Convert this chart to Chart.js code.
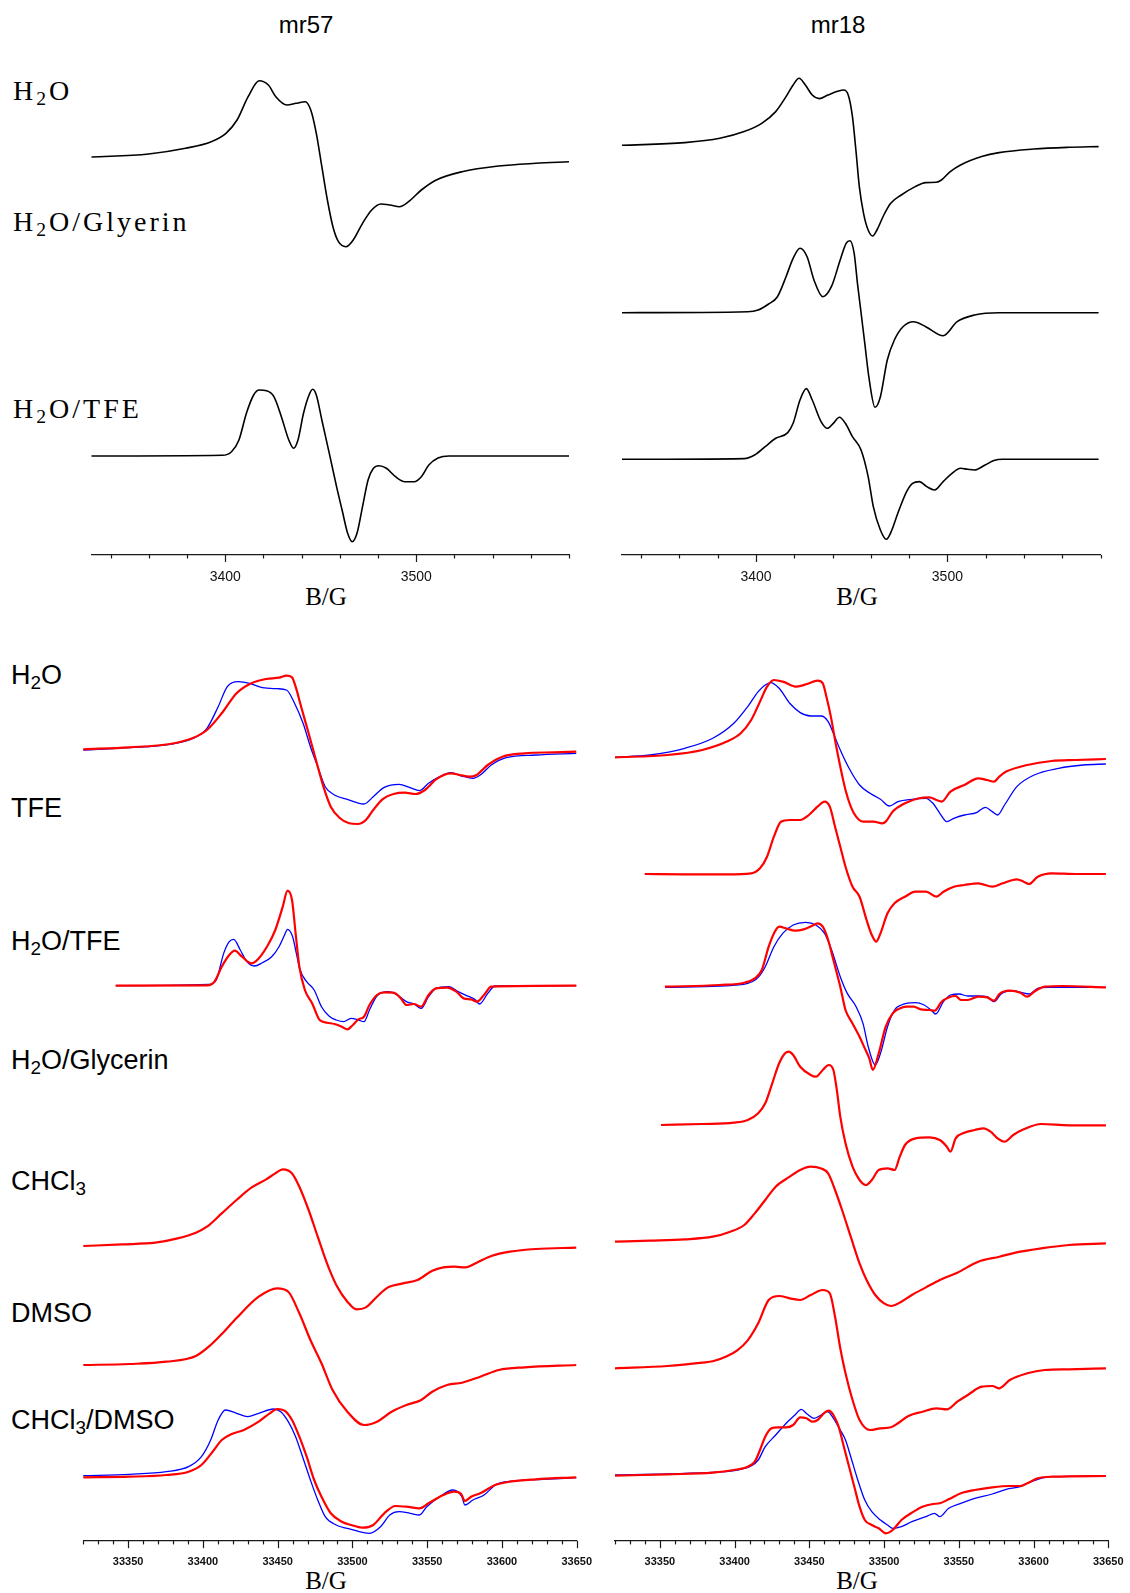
<!DOCTYPE html>
<html>
<head>
<meta charset="utf-8">
<script src="https://cdn.jsdelivr.net/npm/chart.js@4.4.0/dist/chart.umd.min.js"></script>
<style>
  html, body { margin: 0; padding: 0; background: #fff; }
  body { width: 1130px; height: 1593px; position: relative; overflow: hidden; }
  canvas { position: absolute; }
  .t { position: absolute; white-space: nowrap; color: #000; line-height: 1; }
  .serif { font-family: "Liberation Serif", "Times New Roman", serif; }
  .sans { font-family: "Liberation Sans", Arial, sans-serif; }
  .ctr { transform: translateX(-50%); }
  .lab { font-size: 28px; letter-spacing: 3px; }
  .slab { font-size: 27px; }
  sub { font-size: 0.7em; vertical-align: -0.28em; line-height: 0; }
</style>
</head>
<body>

<div class="t sans ctr" style="left:306px;top:13px;font-size:24px;">mr57</div>
<div class="t sans ctr" style="left:838px;top:13px;font-size:24px;">mr18</div>

<div class="t serif lab" style="left:13px;top:77px;">H<sub>2</sub>O</div>
<div class="t serif lab" style="left:13px;top:208px;">H<sub>2</sub>O/Glyerin</div>
<div class="t serif lab" style="left:13px;top:395px;">H<sub>2</sub>O/TFE</div>

<div class="t sans slab" style="left:11px;top:662px;">H<sub>2</sub>O</div>
<div class="t sans slab" style="left:11px;top:795px;">TFE</div>
<div class="t sans slab" style="left:11px;top:928px;">H<sub>2</sub>O/TFE</div>
<div class="t sans slab" style="left:11px;top:1047px;">H<sub>2</sub>O/Glycerin</div>
<div class="t sans slab" style="left:11px;top:1168px;">CHCl<sub>3</sub></div>
<div class="t sans slab" style="left:11px;top:1300px;">DMSO</div>
<div class="t sans slab" style="left:11px;top:1407px;">CHCl<sub>3</sub>/DMSO</div>

<div class="t serif ctr" style="left:326px;top:584px;font-size:25px;">B/G</div>
<div class="t serif ctr" style="left:857px;top:584px;font-size:25px;">B/G</div>
<div class="t serif ctr" style="left:326px;top:1568px;font-size:25px;">B/G</div>
<div class="t serif ctr" style="left:857px;top:1568px;font-size:25px;">B/G</div>

<canvas id="tl" width="595" height="620" style="left:0;top:0;"></canvas>
<canvas id="tr" width="550" height="620" style="left:580px;top:0;"></canvas>
<canvas id="bl" width="620" height="993" style="left:0;top:600px;"></canvas>
<canvas id="br" width="565" height="993" style="left:585px;top:600px;"></canvas>

<script>
// ---------- axis ticks ----------
const TOP_RANGE = [3330, 3580];
const TOP_TICK_LABELS = [3400, 3500];
const TOP_MINOR_STEP = 20;
const BOT_RANGE = [33320, 33650];
const BOT_TICK_LABELS = [33350, 33400, 33450, 33500, 33550, 33600, 33650];
const BOT_MINOR_STEP = 10;

// ---------- mr57, X-band (field in G, signal in arbitrary units) ----------
const mr57_H2O_B = [3330, 3359.9, 3379.2, 3392.7, 3400.4, 3406.2, 3412, 3417.8, 3422.6, 3426.5, 3432.3, 3437.1, 3441.9, 3444.8, 3447.7, 3450.6, 3453.5, 3456.4, 3459.3, 3463.2, 3467, 3471.9, 3476.7, 3481.5, 3486.3, 3491.2, 3496, 3502.7, 3510.5, 3524, 3543.3, 3562.6, 3580];
const mr57_H2O_S = [2, 5, 10.7, 17.3, 25.7, 39, 62.3, 78.3, 74, 62.3, 54, 55.7, 57.3, 49, 25.7, -7.7, -41, -67.7, -82.7, -87.7, -81, -64.3, -51, -45, -46, -47.7, -42.7, -31, -21, -12.7, -7, -4.3, -2.7];

const mr57_TFE_B = [3330, 3398.5, 3403.3, 3407.2, 3411.1, 3414.9, 3417.8, 3421.7, 3425.5, 3429.4, 3433.3, 3435.8, 3438.1, 3441, 3443.9, 3445.8, 3447.7, 3450.6, 3454.5, 3458.3, 3461.2, 3464.1, 3466.5, 3469, 3471.9, 3474.8, 3477.6, 3480.5, 3484.4, 3489.2, 3494, 3498.9, 3502.7, 3506.6, 3511.4, 3517.2, 3580];
const mr57_TFE_S = [0, 0.7, 4.3, 16, 42.7, 61, 66, 65.3, 59.3, 39.3, 16, 7.7, 16, 42.7, 61, 66.7, 61, 36, 2.7, -30.7, -54, -77.3, -85.7, -77.3, -50.7, -24, -12.3, -9.7, -12.3, -20.7, -25.7, -25.7, -20.7, -9, -2, 0, 0];

// ---------- mr18, X-band ----------
const mr18_H2O_B = [3330, 3362.8, 3381.1, 3393.8, 3403, 3410.3, 3415.7, 3419.4, 3422.5, 3425.8, 3429.4, 3433.1, 3437.6, 3443.1, 3445.8, 3448.2, 3450.4, 3452.2, 3454, 3456.2, 3458.6, 3461, 3463.2, 3466.8, 3470.4, 3475.9, 3483.2, 3488.7, 3494.2, 3496.9, 3501.5, 3506.9, 3517.9, 3527, 3545.2, 3563.5, 3579];
const mr18_H2O_S = [0, 2.7, 7, 13.7, 22, 33.7, 48.7, 60.3, 67, 60.3, 50.3, 46.7, 50.3, 54.3, 55.3, 50.3, 28.7, -4.7, -41.3, -68, -84.7, -90.7, -84.7, -69.7, -58, -49.7, -41.3, -37.3, -37, -34.7, -26.3, -19.7, -11.3, -7.3, -3.7, -2, -1.3];

const mr18_GLY_B = [3330, 3395.7, 3401.1, 3406.6, 3411.2, 3415.7, 3419.4, 3423, 3426.7, 3430.3, 3434.9, 3439.4, 3444, 3447.1, 3449.1, 3451.3, 3453.1, 3454.9, 3456.8, 3459.1, 3462.2, 3465, 3468.6, 3472.3, 3476.8, 3482.3, 3488.7, 3497.8, 3505.1, 3514.2, 3527, 3579];
const mr18_GLY_S = [0, 1, 2.7, 8.7, 16, 36, 54.4, 64.4, 56, 32.7, 16, 26, 52.7, 69.4, 72, 59.4, 28, 0, -30, -66, -94.6, -84, -47.3, -27.3, -14, -9, -14, -23, -9, -2.3, 0, 0];

const mr18_TFE_B = [3330, 3393.8, 3399.3, 3404.8, 3410.3, 3416.6, 3419.4, 3423, 3426.3, 3429.4, 3434, 3437.3, 3440.4, 3443.6, 3446.7, 3450.4, 3454.9, 3458.6, 3461.3, 3465, 3468.1, 3471, 3474.1, 3478.7, 3481.8, 3485.4, 3489.2, 3493.3, 3497.8, 3502.4, 3506.9, 3510.6, 3514.2, 3519.7, 3524.3, 3528.8, 3579];
const mr18_TFE_S = [0, 0.7, 4.3, 12.7, 21, 26.7, 36, 59.3, 70.7, 59.3, 37.7, 31, 36, 42, 36, 22.7, 9.3, -17.3, -47.3, -70.7, -80, -70.7, -54, -32.3, -24, -22.3, -27.3, -30.7, -22.3, -14, -9, -10, -10.7, -5.7, -1.3, 0, 0];

// ---------- mr57, Q-band (red and blue spectra) ----------
const q57_H2O_red_B = [33320, 33350.9, 33378, 33392.9, 33402.7, 33412.6, 33422.5, 33432.4, 33442.3, 33450.9, 33455.9, 33459.6, 33462, 33465.7, 33470.7, 33475.6, 33480.6, 33485.5, 33491.7, 33497.8, 33503.5, 33509, 33513.9, 33520.1, 33527.5, 33534.9, 33542.3, 33548.5, 33555.9, 33565.8, 33571.9, 33578.1, 33583.1, 33590.5, 33600.3, 33615.2, 33634.9, 33649.7];
const q57_H2O_red_S = [0.7, 2.7, 6, 11.7, 20, 36.7, 56.7, 66.7, 71, 72.3, 74.3, 72.7, 63.3, 43.3, 16.7, -10, -36.7, -56.7, -68.3, -73.3, -74, -70, -60, -49.3, -44, -42.7, -44, -40, -29.3, -23.3, -25, -26.7, -25, -15, -6.7, -3.3, -2.3, -1.7];
const q57_H2O_blue_B = [33320, 33350.9, 33378, 33392.9, 33402.7, 33410.2, 33416.3, 33423.7, 33431.2, 33439.8, 33449.7, 33455.9, 33460.8, 33467, 33471.9, 33476.8, 33481.8, 33488, 33496.6, 33507.7, 33513.9, 33521.3, 33531.2, 33538.6, 33544.8, 33550.9, 33558.4, 33565.8, 33573.2, 33580.6, 33585.5, 33592.9, 33602.8, 33622.6, 33649.7];
const q57_H2O_blue_S = [0, 2.3, 5.7, 11.3, 21.7, 43.3, 63.3, 68.3, 66.7, 62.3, 61.3, 60, 48.3, 26.7, 3.3, -16.7, -36.7, -45, -49.3, -54, -46.7, -37.3, -34.3, -37.7, -40.7, -33.3, -26.7, -22.7, -26, -28.3, -25, -15, -7.7, -5, -3.3];

const q57_WTFE_red_B = [33341.7, 33402.7, 33407.7, 33412.6, 33417.6, 33421.3, 33426.2, 33432.4, 33437.3, 33443.5, 33448.4, 33453.4, 33456.6, 33459.6, 33462, 33464.5, 33468.2, 33473.1, 33478.1, 33483, 33488, 33492.9, 33496.6, 33500.3, 33504, 33507.7, 33511.4, 33516.4, 33521.3, 33527.5, 33532.4, 33536.1, 33541.1, 33546, 33550.9, 33555.9, 33563.3, 33569.5, 33574.4, 33579.4, 33583.1, 33588, 33592.9, 33649.7];
const q57_WTFE_red_S = [0, 0.3, 4, 19, 30.7, 35, 29, 22.3, 27.3, 40.7, 55.7, 79, 95, 85.7, 52.3, 19, -4.3, -17.7, -34.3, -37, -38.3, -41, -43.7, -39.3, -33.7, -31, -19.3, -9.3, -6.7, -7, -12.7, -19.3, -18.3, -21, -9.3, -2.7, -2, -6, -12.7, -13.7, -16, -9.3, -1, 0];
const q57_WTFE_blue_B = [33341.7, 33404, 33408.9, 33413.9, 33417.6, 33420.6, 33425, 33429.4, 33434.4, 33439.8, 33446, 33450.9, 33454.6, 33456.6, 33460, 33462.5, 33465, 33469.4, 33474.4, 33479.3, 33484.3, 33489.2, 33494.1, 33499.1, 33504, 33507.7, 33511.4, 33516.4, 33523.8, 33530, 33536.1, 33541.1, 33546, 33550.9, 33555.9, 33564.5, 33570.7, 33578.1, 33581.8, 33585, 33590.5, 33595.4, 33649.7];
const q57_WTFE_blue_S = [0, 1.3, 5.7, 32.3, 44, 46.3, 35.7, 24, 19.7, 23, 29, 39, 50.7, 56.3, 49, 32.3, 15.7, 4, -4.3, -21, -30.3, -34.3, -36, -32.7, -34.3, -36, -24.3, -10.3, -6, -9.3, -16, -18.3, -22.7, -11, -2.7, -1, -6, -11, -13.7, -18.3, -7.7, -0.3, 0];

const q57_CHCl3_B = [33320, 33345.9, 33368.2, 33383, 33395.3, 33402.7, 33412.6, 33422.5, 33432.4, 33442.3, 33448.4, 33453.4, 33459.6, 33464.5, 33470.7, 33476.8, 33483, 33489.2, 33496.6, 33502.8, 33509, 33516.4, 33523.8, 33533.7, 33543.5, 33553.4, 33560.8, 33568.2, 33575.6, 33583.1, 33592.9, 33605.3, 33622.6, 33649.7];
const q57_CHCl3_S = [0.7, 2.3, 4, 8.3, 14, 20, 33.3, 46.7, 59, 67.3, 73.3, 77.3, 73.3, 60, 36.7, 10, -16.7, -38.3, -55, -62.7, -60.7, -50, -40.7, -36.7, -33.3, -24, -20.7, -20, -20.7, -16, -9.3, -5, -2.3, -1];

const q57_DMSO_B = [33320, 33350.9, 33375.6, 33395.3, 33405.2, 33412.6, 33422.5, 33437.3, 33449.7, 33457.1, 33464.5, 33471.9, 33479.3, 33486.7, 33496.6, 33507.7, 33516.4, 33526.2, 33536.1, 33546, 33553.4, 33563.3, 33573.2, 33585.5, 33597.9, 33615.2, 33649.7];
const q57_DMSO_S = [0, 1, 3.3, 9, 20, 31, 47, 68.3, 76.7, 73.3, 51.7, 25, 1.7, -25, -46.7, -60, -56.7, -46.7, -40, -35, -26.7, -20, -17.7, -11.7, -5, -2.3, 0];

const q57_MIX_red_B = [33320, 33350.9, 33375.6, 33390.4, 33399, 33406.5, 33412.6, 33418.8, 33427.4, 33437.3, 33444.7, 33449.7, 33454.6, 33459.6, 33464.5, 33469.4, 33474.4, 33479.3, 33485.5, 33492.9, 33499.1, 33506.5, 33513.9, 33521.3, 33528.7, 33536.1, 33544.8, 33550.9, 33560.8, 33568.2, 33572.7, 33575.2, 33579.4, 33585.5, 33595.4, 33605.3, 33622.6, 33649.7];
const q57_MIX_red_S = [-0.3, 0.3, 2, 5.3, 12, 25.3, 37, 42.7, 47, 55.3, 63.7, 68, 66.3, 57, 40.3, 20.3, -3, -19.7, -36.3, -44.7, -48, -50.7, -48, -36.3, -29, -29.7, -31.3, -26.3, -18, -14.7, -17, -24, -19.7, -16.3, -8, -4.7, -2.3, -0.3];
const q57_MIX_blue_B = [33320, 33350.9, 33375.6, 33390.4, 33399, 33405.2, 33410.2, 33415.1, 33422.5, 33429.9, 33437.3, 33447.2, 33452.1, 33457.1, 33462, 33467, 33471.9, 33476.8, 33481.8, 33489.2, 33499.1, 33511.4, 33518.8, 33525, 33531.2, 33538.6, 33544.8, 33549.7, 33558.4, 33567.1, 33573.2, 33575.2, 33580.6, 33588, 33596.6, 33610.2, 33627.5, 33649.7];
const q57_MIX_blue_S = [1.3, 2.7, 5.3, 10.3, 20.3, 37, 57, 67, 63.7, 60.3, 63.7, 68, 65.3, 55.3, 40.3, 18.7, -3, -23, -39.7, -48, -52.3, -56.3, -49.7, -38, -34.7, -36.3, -38, -29.7, -19.7, -13, -19.7, -28, -23, -18, -7, -3.7, -2.3, -0.7];

// ---------- mr18, Q-band ----------
const q18_H2O_red_B = [33320, 33355.1, 33378.4, 33394.8, 33404.1, 33411.1, 33417, 33421.7, 33426.3, 33432.2, 33441.5, 33448.5, 33455.5, 33459, 33461.4, 33464.4, 33467.2, 33470.7, 33474.2, 33477.7, 33481.3, 33485.9, 33492.9, 33498.8, 33501.1, 33505.8, 33514, 33523.3, 33530.3, 33535, 33538.5, 33544.4, 33553.7, 33563, 33568.9, 33573.6, 33577.1, 33581.7, 33595.8, 33612.1, 33628.5, 33648.4];
const q18_H2O_red_S = [0, 2.3, 7.3, 15.7, 24, 37.3, 55.7, 70.7, 77.3, 75.7, 70.7, 73.3, 76.7, 74, 60.7, 40.7, 17.3, -9.3, -32.7, -49.3, -59.3, -64.3, -64.3, -66, -64.3, -54.3, -46, -41, -40, -42.7, -44.3, -34.3, -27.7, -21, -22.7, -24.3, -19.3, -14.3, -7.7, -3.7, -2.7, -1.7];
const q18_H2O_blue_B = [33320, 33343.4, 33366.7, 33385.4, 33399.5, 33408.8, 33415.8, 33420.5, 33424, 33429.8, 33436.9, 33443.9, 33450.9, 33457.9, 33462.6, 33466.1, 33470.7, 33476.6, 33483.6, 33490.6, 33497.6, 33503.5, 33509.3, 33518.6, 33528, 33532.7, 33537.3, 33542, 33546.7, 33553.7, 33561.9, 33567.7, 33572.4, 33575.9, 33580.6, 33588.8, 33600.4, 33616.8, 33633.2, 33648.4];
const q18_H2O_blue_S = [0, 2.3, 9, 19, 34, 50.7, 65.7, 72.3, 74.7, 69, 54, 44.7, 41.3, 41.3, 35.7, 24, 7.3, -11, -27.7, -36, -42, -48.7, -44.3, -42, -41, -46, -56, -64.3, -61, -57.7, -55.3, -50, -54.3, -57.7, -47.7, -29.3, -17.7, -11, -7.7, -6.7];

const q18_TFE_B = [33339.9, 33366.7, 33394.8, 33411.1, 33417, 33421.7, 33426.3, 33431, 33436.9, 33443.9, 33449.7, 33455.5, 33460.2, 33463.7, 33467.2, 33470.7, 33474.2, 33478.9, 33483.6, 33488.3, 33491.8, 33494.8, 33497.6, 33502.3, 33507, 33514, 33521, 33528, 33535, 33539.7, 33546.7, 33553.7, 33563, 33572.4, 33579.4, 33588.8, 33593.4, 33596.9, 33602.8, 33612.1, 33628.5, 33648.4];
const q18_TFE_S = [0, -0.3, -0.3, 0.7, 5.7, 17.3, 37.3, 52.3, 54, 54, 59, 67.3, 72.3, 67.3, 47.3, 27.3, 7.3, -12.7, -22.7, -46, -61, -67.7, -59.3, -39.3, -29.3, -22.7, -17.7, -17.7, -22.7, -17.7, -12.7, -11, -9.3, -12.7, -9.3, -5.3, -7.7, -10, -2.7, 0.7, 0, 0];

const q18_WTFE_red_B = [33353.4, 33390.1, 33406.5, 33413.5, 33418.2, 33422.8, 33426.3, 33429.8, 33434.5, 33440.4, 33446.2, 33452, 33455.5, 33459, 33462.6, 33466.1, 33470.7, 33474.2, 33478.9, 33483.6, 33487.1, 33490.1, 33492.5, 33496.4, 33501.1, 33505.8, 33510.5, 33515.1, 33519.8, 33524.5, 33530.3, 33533.8, 33538.5, 33543.2, 33547.9, 33551.4, 33556, 33563, 33568.9, 33573.6, 33577.1, 33584.1, 33591.1, 33595.8, 33600.4, 33607.5, 33619.1, 33648.4];
const q18_WTFE_red_S = [0, 1.7, 4, 8.3, 16.7, 40, 53.3, 60, 58.3, 56, 57.3, 61, 63.3, 60, 46.7, 26.7, 0, -23.3, -36.7, -50, -61.7, -71.7, -83.3, -66.7, -40, -26.7, -21.7, -20, -20, -22.7, -23.3, -24, -15, -10.7, -9.3, -13.3, -13.3, -10, -10.7, -14, -7.3, -4, -6, -10, -5, 0, 0.7, -0.7];
const q18_WTFE_blue_B = [33353.4, 33390.1, 33408.8, 33415.8, 33420.5, 33426.3, 33432.2, 33439.2, 33447.4, 33454.4, 33460.2, 33464.9, 33470.7, 33475.4, 33481.3, 33485.9, 33489.4, 33494.1, 33497.6, 33502.3, 33507, 33511.6, 33521, 33526.8, 33531.5, 33534.5, 33539.7, 33544.4, 33550.2, 33556, 33563, 33568.9, 33573.6, 33578.3, 33586.5, 33592.4, 33597, 33602.8, 33609.8, 33648.4];
const q18_WTFE_blue_S = [-0.7, 0.7, 3.3, 9.3, 20, 40, 53.3, 61.7, 64.3, 61.7, 53.3, 36.7, 10, -6.7, -20, -36.7, -60, -78.3, -66.7, -40, -23.3, -18.3, -16, -18.3, -23.3, -27.3, -15, -8.3, -7.3, -9.3, -9.3, -10, -15, -7.3, -4, -6, -7.3, -1.7, -0.7, -0.7];

const q18_GLY_B = [33350.8, 33378.4, 33399.5, 33408.8, 33415.8, 33420.5, 33425.2, 33429.8, 33433.3, 33436.1, 33439.2, 33443.9, 33450.9, 33454.4, 33459, 33463, 33466.1, 33468.4, 33470.7, 33474.2, 33478.9, 33483.6, 33487.8, 33491.8, 33496.4, 33502.3, 33507, 33510.5, 33514, 33521, 33530.3, 33537.3, 33542, 33544.4, 33547.9, 33553.7, 33560.7, 33566.6, 33571.3, 33575.9, 33580.6, 33586.4, 33593.4, 33605.1, 33623.8, 33648.4];
const q18_GLY_S = [0, 1, 2.3, 5, 11.7, 21.7, 41.7, 61.7, 71, 73.3, 70, 58.3, 50, 48.3, 55, 60, 55, 35, 8.3, -18.3, -41.7, -55, -60, -55, -45, -43.3, -45, -31.7, -20, -13.3, -12.3, -15, -21.7, -26.7, -13.3, -7.7, -5, -3.3, -6.7, -13.3, -16.7, -10, -4.3, 1, -0.3, -0.3];

const q18_CHCl3_B = [33320, 33343.4, 33366.7, 33385.4, 33397.1, 33406.5, 33413.5, 33420.5, 33427.5, 33436.9, 33443.9, 33450.9, 33457.9, 33462.6, 33467.2, 33471.9, 33477.7, 33483.6, 33488.3, 33494.1, 33500, 33504.6, 33511.6, 33518.6, 33528, 33537.3, 33549, 33563, 33577.1, 33591.1, 33605.1, 33623.8, 33648.4];
const q18_CHCl3_S = [0, 1, 2.3, 5, 10, 16.7, 28.3, 41.7, 55, 65, 71.7, 75, 73.3, 68.3, 51.7, 31.7, 5, -21.7, -38.3, -53.3, -61.7, -64.3, -60, -53.3, -45.7, -38.3, -31, -20, -15, -10, -6.7, -3.3, -1.7];

const q18_DMSO_B = [33320, 33355.1, 33378.4, 33385.4, 33394.8, 33401.8, 33408.8, 33415.8, 33422.8, 33429.8, 33436.9, 33443.9, 33450.9, 33459, 33463.7, 33467.2, 33470.7, 33474.2, 33478.9, 33483.6, 33490.6, 33497.6, 33504.6, 33509.3, 33516.3, 33525.7, 33535, 33542, 33549, 33556, 33565.4, 33572.4, 33577.1, 33584.1, 33595.8, 33607.5, 33623.8, 33648.4];
const q18_DMSO_S = [0, 2.3, 5.6, 7, 12, 18, 28, 45, 68.3, 72.3, 70, 68.3, 73.3, 78.3, 75, 51.6, 20, -5, -31.7, -51.7, -61.7, -60, -59, -55, -47.7, -43.4, -40, -41, -33.4, -26.7, -18.4, -17.7, -20, -11.7, -5, -1.7, -1, 0];

const q18_MIX_red_B = [33320, 33355.1, 33385.4, 33399.5, 33408.8, 33413.5, 33417, 33420.5, 33424.7, 33428.7, 33434.5, 33439.2, 33443.9, 33448.1, 33452, 33455.5, 33460.2, 33463, 33466.1, 33469.6, 33473.1, 33476.6, 33480.1, 33483.6, 33487.1, 33491.8, 33496.4, 33501.1, 33505.8, 33511.6, 33518.6, 33525.7, 33532.7, 33537.3, 33543.2, 33551.4, 33560.7, 33572.4, 33584.1, 33591.1, 33595.8, 33602.8, 33612.1, 33648.4];
const q18_MIX_red_S = [-0.7, 0.7, 2.3, 5, 8.3, 13.3, 25, 38.3, 46.7, 47.7, 47.7, 50, 57.7, 56.7, 53.3, 55, 62.3, 64.3, 60, 48.3, 28.3, 8.3, -11.7, -31.7, -45, -50, -53.3, -58.3, -55, -45, -37.7, -31.7, -29, -28.3, -24.3, -18.3, -15, -12.3, -11, -11, -8.3, -3.3, -1.7, -1];
const q18_MIX_blue_B = [33320, 33355.1, 33390.1, 33401.8, 33411.1, 33415.8, 33420.5, 33427.5, 33434.5, 33440.4, 33444.6, 33448.5, 33453.2, 33457.9, 33462.1, 33466.1, 33470.7, 33474.2, 33477.7, 33482.4, 33487.1, 33491.8, 33497.6, 33502.3, 33505.8, 33511.6, 33518.6, 33528, 33533.8, 33537.3, 33543.2, 33551.4, 33560.7, 33572.4, 33581.7, 33591.1, 33595.8, 33602.8, 33612.1, 33648.4];
const q18_MIX_blue_S = [0, 1, 3, 5, 9, 15, 28.3, 40, 51.7, 60, 65.7, 61, 56.7, 60, 63.3, 56.7, 45, 35, 18.3, -5, -25, -36.7, -45, -50, -53.3, -51.7, -46.7, -41.7, -38.3, -41.7, -33.3, -28.3, -23.3, -19, -14.3, -11.7, -8.3, -4.3, -1.7, -1];

// ---------- drawing ----------
const BLACK = '#000000', RED = '#ff0000', BLUE = '#0000ff';

function trace(B, S, offset, color, width, order) {
  return {
    data: B.map((b, i) => ({ x: b, y: offset + S[i] })),
    borderColor: color,
    borderWidth: width,
    pointRadius: 0,
    cubicInterpolationMode: 'monotone',
    fill: false,
    clip: false,
    order: order
  };
}

function tickList(range, step) {
  const out = [];
  const first = Math.ceil(range[0] / step) * step;
  for (let v = first; v <= range[1] + 1e-6; v += step) out.push(v);
  return out;
}

// short tick marks hanging below the axis line, longer at labelled values
const tickMarks = {
  id: 'tickMarks',
  afterDraw(chart, args, o) {
    const sx = chart.scales.x, ctx = chart.ctx, y0 = chart.chartArea.bottom;
    ctx.save();
    ctx.strokeStyle = '#1a1a1a';
    ctx.lineWidth = 1.2;
    o.values.forEach(v => {
      const len = o.major.includes(v) ? o.majorLen : o.minorLen;
      const x = Math.round(sx.getPixelForValue(v)) + 0.5;
      ctx.beginPath();
      ctx.moveTo(x, y0);
      ctx.lineTo(x, y0 + len);
      ctx.stroke();
    });
    ctx.restore();
  }
};

function makeChart(id, cfg) {
  const values = tickList(cfg.range, cfg.step);
  return new Chart(document.getElementById(id), {
    type: 'line',
    data: { datasets: cfg.datasets },
    options: {
      responsive: false,
      animation: false,
      devicePixelRatio: 1,
      layout: { padding: cfg.padding },
      plugins: {
        legend: { display: false },
        tooltip: { enabled: false },
        tickMarks: { values: values, major: cfg.labels, majorLen: cfg.majorLen, minorLen: cfg.minorLen }
      },
      scales: {
        x: {
          type: 'linear',
          min: cfg.range[0],
          max: cfg.range[1],
          afterBuildTicks: s => { s.ticks = values.map(v => ({ value: v })); },
          afterFit: s => { s.height = cfg.axisHeight; },
          grid: { display: true, drawOnChartArea: false, drawTicks: false },
          border: { display: true, color: '#1a1a1a', width: 1.3 },
          ticks: {
            autoSkip: false,
            maxRotation: 0,
            padding: cfg.tickPad,
            color: '#111',
            font: cfg.tickFont,
            callback: v => (cfg.labels.includes(v) ? String(v) : '')
          }
        },
        y: { type: 'linear', display: false, min: 0, max: cfg.plotHeight }
      }
    },
    plugins: [tickMarks]
  });
}

const topCommon = {
  range: TOP_RANGE, step: TOP_MINOR_STEP, labels: TOP_TICK_LABELS,
  majorLen: 7, minorLen: 3.5, axisHeight: 65, plotHeight: 515, tickPad: 14,
  tickFont: { family: '"Liberation Sans", Arial, sans-serif', size: 14 }
};
const botCommon = {
  range: BOT_RANGE, step: BOT_MINOR_STEP, labels: BOT_TICK_LABELS,
  majorLen: 7.5, minorLen: 3.7, axisHeight: 52.3, plotHeight: 900.7, tickPad: 15,
  tickFont: { family: '"Liberation Sans", Arial, sans-serif', size: 11, weight: 'bold' }
};

makeChart('tl', Object.assign({}, topCommon, {
  padding: { left: 91.5, right: 26, top: 40, bottom: 0 },
  datasets: [
    trace(mr57_H2O_B, mr57_H2O_S, 396, BLACK, 1.6, 0),
    trace(mr57_TFE_B, mr57_TFE_S, 99, BLACK, 1.6, 0)
  ]
}));

makeChart('tr', Object.assign({}, topCommon, {
  padding: { left: 42, right: 29.5, top: 40, bottom: 0 },
  datasets: [
    trace(mr18_H2O_B, mr18_H2O_S, 409.7, BLACK, 1.6, 0),
    trace(mr18_GLY_B, mr18_GLY_S, 242.3, BLACK, 1.6, 0),
    trace(mr18_TFE_B, mr18_TFE_S, 95.7, BLACK, 1.6, 0)
  ]
}));

makeChart('bl', Object.assign({}, botCommon, {
  padding: { left: 83.3, right: 43.3, top: 40, bottom: 0 },
  datasets: [
    trace(q57_H2O_red_B, q57_H2O_red_S, 790.7, RED, 2.2, 0),
    trace(q57_H2O_blue_B, q57_H2O_blue_S, 790.7, BLUE, 1.3, 1),
    trace(q57_WTFE_red_B, q57_WTFE_red_S, 555, RED, 2.2, 0),
    trace(q57_WTFE_blue_B, q57_WTFE_blue_S, 555, BLUE, 1.3, 1),
    trace(q57_CHCl3_B, q57_CHCl3_S, 294, RED, 2.2, 0),
    trace(q57_DMSO_B, q57_DMSO_S, 175.7, RED, 2.2, 0),
    trace(q57_MIX_red_B, q57_MIX_red_S, 63.7, RED, 2.2, 0),
    trace(q57_MIX_blue_B, q57_MIX_blue_S, 63.7, BLUE, 1.3, 1)
  ]
}));

makeChart('br', Object.assign({}, botCommon, {
  padding: { left: 30, right: 41.7, top: 40, bottom: 0 },
  datasets: [
    trace(q18_H2O_red_B, q18_H2O_red_S, 783.4, RED, 2.2, 0),
    trace(q18_H2O_blue_B, q18_H2O_blue_S, 783.4, BLUE, 1.3, 1),
    trace(q18_TFE_B, q18_TFE_S, 666.7, RED, 2.2, 0),
    trace(q18_WTFE_red_B, q18_WTFE_red_S, 554, RED, 2.2, 0),
    trace(q18_WTFE_blue_B, q18_WTFE_blue_S, 554, BLUE, 1.3, 1),
    trace(q18_GLY_B, q18_GLY_S, 415.7, RED, 2.2, 0),
    trace(q18_CHCl3_B, q18_CHCl3_S, 299, RED, 2.2, 0),
    trace(q18_DMSO_B, q18_DMSO_S, 172.4, RED, 2.2, 0),
    trace(q18_MIX_red_B, q18_MIX_red_S, 65.7, RED, 2.2, 0),
    trace(q18_MIX_blue_B, q18_MIX_blue_S, 65.7, BLUE, 1.3, 1)
  ]
}));
</script>
</body>
</html>
